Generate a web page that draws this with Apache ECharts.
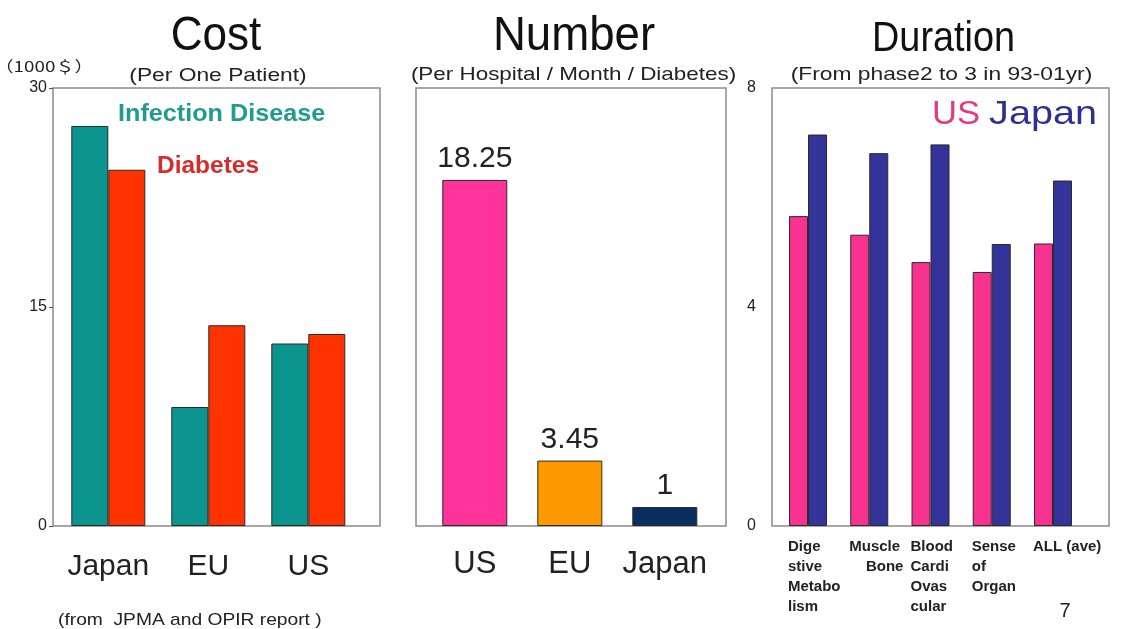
<!DOCTYPE html>
<html><head><meta charset="utf-8">
<script src="https://cdn.jsdelivr.net/npm/echarts@6/dist/echarts.min.js"></script>
<style>html,body{margin:0;padding:0;background:#fff}#c{width:1121px;height:629px}</style>
</head><body><div id="c"></div>
<script>
// ---- data ----
const costCategories = ['Japan', 'EU', 'US'];
const costInfection = [27.4, 8.15, 12.5];
const costDiabetes = [24.4, 13.75, 13.15];
const costTicks = [0, 15, 30];

const numberCategories = ['US', 'EU', 'Japan'];
const numberValues = [18.25, 3.45, 1];

const durationCategories = ['Dige\nstive\nMetabo\nlism', 'Muscle\n    Bone', 'Blood\nCardi\nOvas\ncular', 'Sense\nof\nOrgan', 'ALL (ave)'];
const durationUS = [5.66, 5.32, 4.82, 4.64, 5.16];
const durationJapan = [7.15, 6.81, 6.97, 5.15, 6.31];
const durationTicks = [0, 4, 8];

// ---- styles ----
const FF = '"Liberation Sans", Arial, sans-serif';
const numberColors = ['#ff3399', '#ff9900', '#0b2e5e'];
const border = { borderColor: '#2a2a2a', borderWidth: 1 };
const TOP = 88, H = 438;

function boxGrid(left, width) {
  return { left, width, top: TOP, height: H, show: true, borderColor: '#8a8a8a', borderWidth: 1.5, backgroundColor: 'transparent' };
}
function seriesGrid(left, width) {
  return { left, width, top: TOP, height: H };
}
function catAxis(gridIndex, data, labelOpt) {
  return {
    type: 'category', gridIndex, data,
    axisLine: { show: false }, axisTick: { show: false },
    axisLabel: Object.assign({ interval: 0, color: '#222', fontFamily: FF }, labelOpt)
  };
}
function hiddenValue(gridIndex, min, max) {
  return { type: 'value', gridIndex, min, max, show: false, splitLine: { show: false } };
}
function shownValue(gridIndex, ticks, margin, tick) {
  return {
    type: 'value', gridIndex, min: ticks[0], max: ticks[ticks.length - 1], interval: ticks[1] - ticks[0],
    splitLine: { show: false }, axisLine: { show: false },
    axisTick: { show: tick, length: 4, lineStyle: { color: '#555' } },
    axisLabel: { margin, fontSize: 16, color: '#222', fontFamily: FF }
  };
}
function txt(text, x, y, font, fill, align, sx) {
  align = align || 'center';
  return { type: 'text', x, y, scaleX: sx || 1, silent: true,
    style: { text, font, fill, textAlign: align, align, textVerticalAlign: 'middle', verticalAlign: 'middle' } };
}

const option = {
  animation: false,
  backgroundColor: '#fff',
  grid: [
    seriesGrid(58.3, 300), boxGrid(53, 327),
    seriesGrid(427.3, 285), boxGrid(416, 310),
    seriesGrid(777.4, 306.2), boxGrid(772, 337)
  ],
  xAxis: [
    catAxis(0, costCategories, { fontSize: 30, lineHeight: 30, margin: 26 }),
    hiddenValue(1, 0, 1),
    catAxis(2, numberCategories, { fontSize: 31, lineHeight: 31, margin: 23 }),
    hiddenValue(3, 0, 1),
    catAxis(4, durationCategories, {
      fontSize: 15, fontWeight: 'bold', lineHeight: 20, margin: 11, align: 'center',
      formatter: v => '{a|' + v + '}',
      rich: { a: { width: 40, align: 'left', fontSize: 15, fontWeight: 'bold', lineHeight: 20, color: '#222', fontFamily: FF } }
    }),
    hiddenValue(5, 0, 1)
  ],
  yAxis: [
    hiddenValue(0, costTicks[0], costTicks[costTicks.length - 1]),
    shownValue(1, costTicks, 6, true),
    hiddenValue(2, 0, 23.1),
    hiddenValue(3, 0, 1),
    hiddenValue(4, durationTicks[0], durationTicks[durationTicks.length - 1]),
    shownValue(5, durationTicks, 16, false)
  ],
  series: [
    { type: 'bar', xAxisIndex: 0, yAxisIndex: 0, data: costInfection, barWidth: 37, barGap: '0%',
      itemStyle: Object.assign({ color: '#0c948f' }, border) },
    { type: 'bar', xAxisIndex: 0, yAxisIndex: 0, data: costDiabetes, barWidth: 37, barGap: '0%',
      itemStyle: Object.assign({ color: '#ff3300' }, border) },
    { type: 'bar', xAxisIndex: 2, yAxisIndex: 2, barWidth: 65,
      data: numberValues.map((v, i) => ({ value: v, itemStyle: Object.assign({ color: numberColors[i] }, border) })),
      label: { show: true, position: 'top', distance: 6, fontSize: 30, lineHeight: 30, color: '#222', fontFamily: FF,
        formatter: p => String(p.value) } },
    { type: 'bar', xAxisIndex: 4, yAxisIndex: 4, data: durationUS, barWidth: 19, barGap: '0%',
      itemStyle: Object.assign({ color: '#f7338f' }, border) },
    { type: 'bar', xAxisIndex: 4, yAxisIndex: 4, data: durationJapan, barWidth: 19, barGap: '0%',
      itemStyle: Object.assign({ color: '#333399' }, border) }
  ],
  graphic: { elements: [
    txt('Cost', 216, 36.5, '49px ' + FF, '#111', 'center', 0.9),
    txt('Number', 574, 36.5, '48px ' + FF, '#111', 'center', 0.95),
    txt('Duration', 943.5, 39.5, '42px ' + FF, '#111', 'center', 0.9),
    txt('(Per One Patient)', 218, 76, '19px ' + FF, '#222', 'center', 1.2),
    txt('(Per Hospital / Month / Diabetes)', 573.5, 75, '19px ' + FF, '#222', 'center', 1.18),
    txt('(From phase2 to 3 in 93-01yr)', 941.5, 75, '19px ' + FF, '#222', 'center', 1.2),
    txt('（1000＄）', 44, 66, '15px "Noto Sans CJK JP", ' + FF, '#222', 'center', 1.26),
    txt('Infection Disease', 118, 114, 'bold 24px ' + FF, '#1f9b8f', 'left', 1.05),
    txt('Diabetes', 157, 166, 'bold 24px ' + FF, '#d92b2b', 'left', 1.02),
    txt('US', 932, 115, '33px ' + FF, '#e23a86', 'left', 1.05),
    txt('Japan', 1097, 115, '33px ' + FF, '#2d3091', 'right', 1.2),
    txt('(from  JPMA and OPIR report )', 58, 620, '17px ' + FF, '#222', 'left', 1.13),
    txt('7', 1065, 611, '20px ' + FF, '#222')
  ] }
};
echarts.init(document.getElementById('c'), null, { renderer: 'canvas' }).setOption(option);
</script>
</body></html>
